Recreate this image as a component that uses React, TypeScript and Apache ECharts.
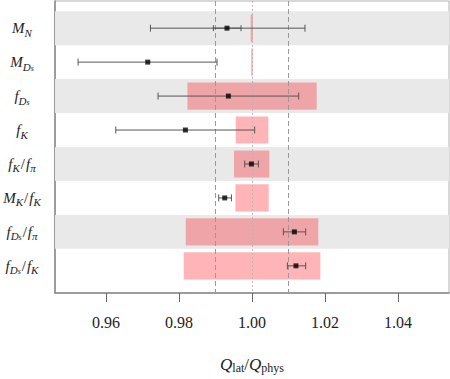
import React, { useEffect, useRef } from "react";
import * as echarts from "echarts";

// Row labels (rich-text markup for subscripts), top to bottom
const rowLabels = [
  "{m|M}{s|N}",
  "{m|M}{s|D}{ss|s}",
  "{m|f}{s|D}{ss|s}",
  "{m|f}{s|K}",
  "{m|f}{s|K}{r|/}{m|f}{s|π}",
  "{m|M}{s|K}{r|/}{m|f}{s|K}",
  "{m|f}{s|D}{ss|s}{r|/}{m|f}{s|π}",
  "{m|f}{s|D}{ss|s}{r|/}{m|f}{s|K}",
];
const rows = [0, 1, 2, 3, 4, 5, 6, 7];
const shadedRows = [0, 2, 4, 6];

// Central values and error bars
const points = [0.99315, 0.97142, 0.99353, 0.98175, 0.99984, 0.99252, 1.01162, 1.01205];
const errLow = [0.97216, 0.95233, 0.97425, 0.96266, 0.998, 0.99088, 1.0086, 1.0097];
const errHigh = [1.01452, 0.99041, 1.01279, 1.00074, 1.00175, 0.99436, 1.01471, 1.01471];
// Inner (statistical) error bar, only for M_N
const innerRow = [0];
const innerLow = [0.98942];
const innerHigh = [0.99699];

// Pink bands
const bandLow = [0.99965, 0.99975, 0.9823, 0.99553, 0.99507, 0.99545, 0.98184, 0.98129];
const bandHigh = [1.00025, 1.00025, 1.01773, 1.00449, 1.00477, 1.00458, 1.01819, 1.01874];

// Reference lines
const dashedLines = [0.99, 1.01];
const dottedLines = [0.999, 1.001];

const xTicks = [0.96, 0.98, 1.0, 1.02, 1.04];
const xTickLabels = ["0.96", "0.98", "1.00", "1.02", "1.04"];
const X_MIN = 0.946;
const X_MAX = 1.054;
const Y_MIN = -0.8;
const Y_MAX = 7.8;

export default function App() {
  const ref = useRef<HTMLDivElement>(null);

  useEffect(() => {
    if (!ref.current) return;
    const chart = echarts.init(ref.current, undefined, { renderer: "svg" });

    const serif = "'Liberation Serif', 'DejaVu Serif', serif";

    const rectItem = (params: any, api: any) => {
      const lo = api.value(0);
      const hi = api.value(1);
      const r = api.value(2);
      const half = api.value(3);
      const p1 = api.coord([lo, r - half]);
      const p2 = api.coord([hi, r + half]);
      const cs = params.coordSys;
      const shape = echarts.graphic.clipRectByRect(
        {
          x: Math.min(p1[0], p2[0]),
          y: Math.min(p1[1], p2[1]),
          width: Math.abs(p2[0] - p1[0]),
          height: Math.abs(p2[1] - p1[1]),
        },
        { x: cs.x, y: cs.y, width: cs.width, height: cs.height }
      );
      return shape
        ? { type: "rect", shape, style: { fill: api.visual("color") } }
        : null;
    };

    const errItem = (capHalf: number) => (params: any, api: any) => {
      const lo = api.value(0);
      const hi = api.value(1);
      const r = api.value(2);
      const a = api.coord([lo, r]);
      const b = api.coord([hi, r]);
      const style = { stroke: "#555", lineWidth: 1 };
      return {
        type: "group",
        children: [
          { type: "line", shape: { x1: a[0], y1: a[1], x2: b[0], y2: b[1] }, style },
          { type: "line", shape: { x1: a[0], y1: a[1] - capHalf, x2: a[0], y2: a[1] + capHalf }, style },
          { type: "line", shape: { x1: b[0], y1: b[1] - capHalf, x2: b[0], y2: b[1] + capHalf }, style },
        ],
      };
    };

    const markData: any[] = [
      ...dashedLines.map((v) => ({
        xAxis: v,
        lineStyle: { color: "#9a9a9a", type: [5, 3], width: 1 },
      })),
      { xAxis: dottedLines[0], lineStyle: { color: "#9a9a9a", type: [1.5, 2.5], width: 1 } },
      { xAxis: dottedLines[1], lineStyle: { color: "#c0b4b4", type: [1.5, 2.5], width: 1 } },
    ];

    chart.setOption({
      animation: false,
      backgroundColor: "#fff",
      grid: {
        left: 55,
        right: 1,
        top: 1,
        bottom: 80,
        show: true,
        borderColor: "#b0b0b0",
        borderWidth: 1,
        backgroundColor: "transparent",
      },
      xAxis: {
        type: "value",
        min: X_MIN,
        max: X_MAX,
        axisLine: { show: true, onZero: false, lineStyle: { color: "#888", width: 1.5 } },
        axisTick: {
          show: true,
          length: 9,
          customValues: xTicks,
          lineStyle: { color: "#666", width: 1 },
        },
        axisLabel: {
          customValues: xTicks,
          margin: 21,
          fontFamily: serif,
          fontSize: 16,
          color: "#222",
          formatter: (v: number) => {
            const i = xTicks.findIndex((t) => Math.abs(t - v) < 1e-6);
            return i >= 0 ? xTickLabels[i] : "";
          },
        },
        splitLine: { show: false },
        name: "{q|Q}{sub|lat}{r|/}{q|Q}{sub|phys}",
        nameLocation: "middle",
        nameGap: 61,
        nameTextStyle: {
          rich: {
            q: { fontFamily: serif, fontStyle: "italic", fontSize: 17, color: "#222", lineHeight: 20 },
            r: { fontFamily: serif, fontSize: 17, color: "#222", lineHeight: 20 },
            sub: {
              fontFamily: serif,
              fontSize: 12,
              color: "#222",
              lineHeight: 9,
              verticalAlign: "bottom",
            },
          },
        },
      },
      yAxis: {
        type: "value",
        min: Y_MIN,
        max: Y_MAX,
        inverse: true,
        axisLine: { show: true, onZero: false, lineStyle: { color: "#888", width: 1.5 } },
        axisTick: { show: false },
        splitLine: { show: false },
        axisLabel: {
          customValues: rows,
          margin: 33,
          align: "center",
          formatter: (v: number) => rowLabels[Math.round(v)] ?? "",
          rich: {
            m: { fontFamily: serif, fontStyle: "italic", fontSize: 15, color: "#222", lineHeight: 20 },
            r: { fontFamily: serif, fontSize: 15, color: "#222", lineHeight: 20, padding: [0, 1, 0, 1] },
            s: {
              fontFamily: serif,
              fontStyle: "italic",
              fontSize: 11,
              color: "#222",
              lineHeight: 9,
              verticalAlign: "bottom",
            },
            ss: {
              fontFamily: serif,
              fontStyle: "italic",
              fontSize: 8,
              color: "#222",
              lineHeight: 5,
              verticalAlign: "bottom",
            },
          },
        },
      },
      series: [
        {
          type: "custom",
          name: "shade",
          z: 1,
          silent: true,
          itemStyle: { color: "#e9e9e9" },
          renderItem: rectItem,
          encode: { x: [0, 1], y: 2 },
          data: shadedRows.map((r) => [X_MIN, X_MAX, r, 0.5]),
        },
        {
          type: "custom",
          name: "bands",
          z: 2,
          silent: true,
          itemStyle: { color: "rgba(255, 10, 20, 0.3)" },
          renderItem: rectItem,
          encode: { x: [0, 1], y: 2 },
          data: rows.map((r) => [bandLow[r], bandHigh[r], r, 0.4]),
        },
        {
          type: "custom",
          name: "errors",
          z: 4,
          silent: true,
          renderItem: errItem(3.5),
          encode: { x: [0, 1], y: 2 },
          data: rows.map((r) => [errLow[r], errHigh[r], r]),
          markLine: {
            silent: true,
            symbol: "none",
            label: { show: false },
            z: 3,
            data: markData,
          },
        },
        {
          type: "custom",
          name: "inner",
          z: 4,
          silent: true,
          renderItem: errItem(3),
          encode: { x: [0, 1], y: 2 },
          data: innerRow.map((r, i) => [innerLow[i], innerHigh[i], r]),
        },
        {
          type: "scatter",
          name: "points",
          z: 5,
          silent: true,
          symbol: "rect",
          symbolSize: 5,
          itemStyle: { color: "#000" },
          data: rows.map((r) => [points[r], r]),
        },
      ],
    });

    return () => chart.dispose();
  }, []);

  return (
    <div
      ref={ref}
      style={{ position: "fixed", left: 0, top: 0, width: 450, height: 379, background: "#fff" }}
    />
  );
}
